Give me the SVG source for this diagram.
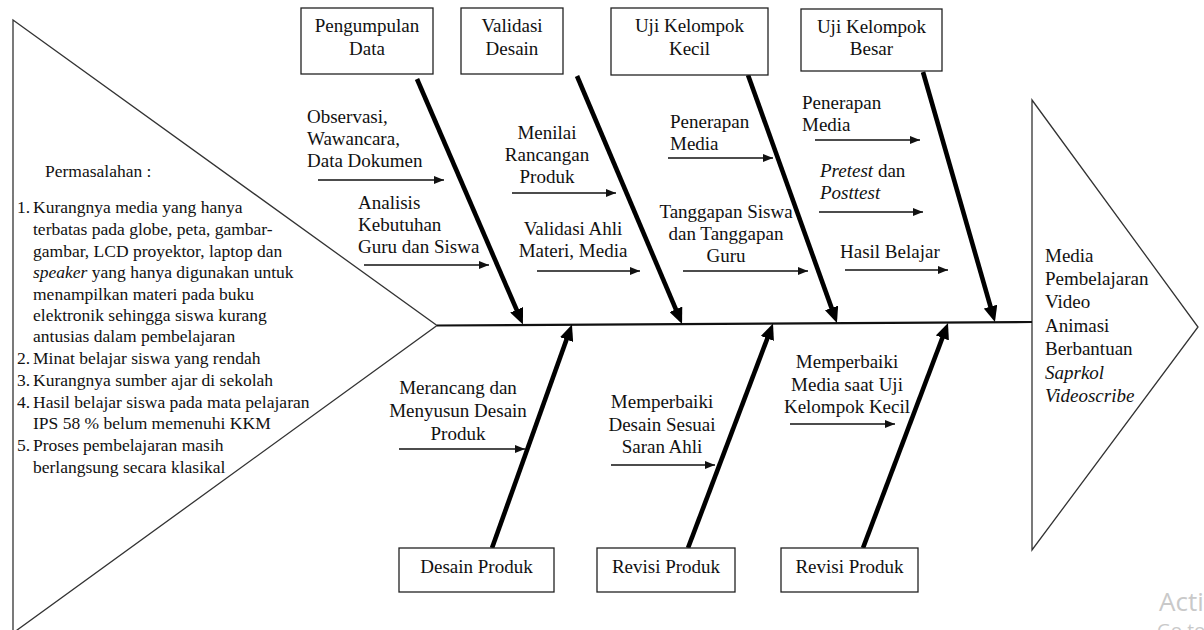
<svg xmlns="http://www.w3.org/2000/svg" width="1204" height="630" viewBox="0 0 1204 630">
  <style>
    .t { font-family: "Liberation Serif", "Times New Roman", serif; font-size: 19px; fill: #111; }
    .c { text-anchor: middle; }
    .list { font-size: 17.5px; }
    .it { font-style: italic; }
    .box { fill: #fff; stroke: #222; stroke-width: 1.3; }
    .outline { fill: none; stroke: #333; stroke-width: 1.3; }
    .spine { stroke: #111; stroke-width: 2.2; fill: none; }
    .bone { stroke: #000; stroke-width: 4.6; fill: none; marker-end: url(#bigHead); }
    .thin { stroke: #111; stroke-width: 1.3; fill: none; marker-end: url(#smallHead); }
    .wm { font-family: "Open Sans", "Noto Sans", sans-serif; fill: #c9c9c9; }
  </style>
  <defs>
    <marker id="bigHead" viewBox="0 0 16 14" refX="1" refY="7" markerWidth="16" markerHeight="14" markerUnits="userSpaceOnUse" orient="auto">
      <path d="M0,0 L16,7 L0,14 z" fill="#000"/>
    </marker>
    <marker id="smallHead" viewBox="0 0 10 8" refX="10" refY="4" markerWidth="10" markerHeight="8" markerUnits="userSpaceOnUse" orient="auto">
      <path d="M0,0 L10,4 L0,8 z" fill="#111"/>
    </marker>
  </defs>

  <rect width="1204" height="630" fill="#fff"/>

  <!-- Head: problem statement triangle -->
  <g id="problem">
    <polygon class="outline" points="13,20 437,325.5 13,633"/>
    <text class="t list" x="45" y="177">Permasalahan :</text>
    <text class="t list" x="17" y="213">1.</text>
    <text class="t list" x="33" y="213">Kurangnya media yang hanya</text>
    <text class="t list" x="33" y="235">terbatas pada globe, peta, gambar-</text>
    <text class="t list" x="33" y="257">gambar, LCD proyektor, laptop dan</text>
    <text class="t list" x="33" y="278"><tspan class="it">speaker</tspan> yang hanya digunakan untuk</text>
    <text class="t list" x="33" y="300">menampilkan materi pada buku</text>
    <text class="t list" x="33" y="321">elektronik sehingga siswa kurang</text>
    <text class="t list" x="33" y="342">antusias dalam pembelajaran</text>
    <text class="t list" x="17" y="364">2.</text>
    <text class="t list" x="33" y="364">Minat belajar siswa yang rendah</text>
    <text class="t list" x="17" y="386">3.</text>
    <text class="t list" x="33" y="386">Kurangnya sumber ajar di sekolah</text>
    <text class="t list" x="17" y="408">4.</text>
    <text class="t list" x="33" y="408">Hasil belajar siswa pada mata pelajaran</text>
    <text class="t list" x="33" y="429">IPS 58 % belum memenuhi KKM</text>
    <text class="t list" x="17" y="451">5.</text>
    <text class="t list" x="33" y="451">Proses pembelajaran masih</text>
    <text class="t list" x="33" y="473">berlangsung secara klasikal</text>
  </g>

  <!-- Outcome: result arrow shape -->
  <g id="outcome">
    <polygon class="outline" points="1032,100 1198,327 1032,550"/>
    <text class="t" x="1045" y="262">Media</text>
    <text class="t" x="1045" y="285">Pembelajaran</text>
    <text class="t" x="1045" y="308">Video</text>
    <text class="t" x="1045" y="332">Animasi</text>
    <text class="t" x="1045" y="355">Berbantuan</text>
    <text class="t it" x="1045" y="379">Saprkol</text>
    <text class="t it" x="1045" y="402">Videoscribe</text>
  </g>

  <!-- Connectors: spine, main bones and sub-cause arrows -->
  <g id="connectors">
    <line class="spine" x1="437" y1="325.5" x2="1032" y2="322"/>
    <line class="bone" x1="417" y1="79" x2="517" y2="310.7"/>
    <line class="bone" x1="577" y1="76" x2="676.2" y2="310.2"/>
    <line class="bone" x1="748" y1="75" x2="831.9" y2="308.9"/>
    <line class="bone" x1="923" y1="72" x2="990.8" y2="307.6"/>
    <line class="bone" x1="492" y1="548" x2="566.9" y2="338.6"/>
    <line class="bone" x1="688" y1="548" x2="767.7" y2="337.5"/>
    <line class="bone" x1="863" y1="548" x2="942.7" y2="337"/>

    <line class="thin" x1="318" y1="180" x2="444" y2="180"/>
    <line class="thin" x1="364" y1="265" x2="489" y2="265"/>
    <line class="thin" x1="512" y1="193" x2="616" y2="193"/>
    <line class="thin" x1="537" y1="271" x2="640" y2="271"/>
    <line class="thin" x1="668" y1="158" x2="773" y2="158"/>
    <line class="thin" x1="683" y1="271" x2="808" y2="271"/>
    <line class="thin" x1="815" y1="140" x2="920" y2="140"/>
    <line class="thin" x1="819" y1="212" x2="923" y2="212"/>
    <line class="thin" x1="845" y1="270" x2="948" y2="270"/>
    <line class="thin" x1="399" y1="449" x2="525" y2="449"/>
    <line class="thin" x1="611" y1="465" x2="715" y2="465"/>
    <line class="thin" x1="790" y1="424" x2="895" y2="424"/>
  </g>

  <!-- Upper stage boxes -->
  <g id="pengumpulan-data">
    <rect class="box" x="301" y="8" width="132" height="66"/>
    <text class="t c" x="367" y="32">Pengumpulan</text>
    <text class="t c" x="367" y="55">Data</text>
  </g>
  <g id="validasi-desain">
    <rect class="box" x="461" y="8" width="102" height="66"/>
    <text class="t c" x="512" y="32">Validasi</text>
    <text class="t c" x="512" y="55">Desain</text>
  </g>
  <g id="uji-kelompok-kecil">
    <rect class="box" x="611" y="8" width="157" height="67"/>
    <text class="t c" x="689.5" y="32">Uji Kelompok</text>
    <text class="t c" x="689.5" y="55">Kecil</text>
  </g>
  <g id="uji-kelompok-besar">
    <rect class="box" x="801" y="9" width="141" height="62"/>
    <text class="t c" x="871.5" y="33">Uji Kelompok</text>
    <text class="t c" x="871.5" y="55">Besar</text>
  </g>

  <!-- Lower stage boxes -->
  <g id="desain-produk">
    <rect class="box" x="399" y="548" width="155" height="44"/>
    <text class="t c" x="476.5" y="573">Desain Produk</text>
  </g>
  <g id="revisi-produk-1">
    <rect class="box" x="597" y="548" width="138" height="44"/>
    <text class="t c" x="666" y="573">Revisi Produk</text>
  </g>
  <g id="revisi-produk-2">
    <rect class="box" x="781" y="548" width="137" height="44"/>
    <text class="t c" x="849.5" y="573">Revisi Produk</text>
  </g>

  <!-- Sub-cause labels -->
  <g id="label-observasi">
    <text class="t" x="307" y="123">Observasi,</text>
    <text class="t" x="307" y="145">Wawancara,</text>
    <text class="t" x="307" y="167">Data Dokumen</text>
  </g>
  <g id="label-analisis">
    <text class="t" x="358" y="209">Analisis</text>
    <text class="t" x="358" y="231">Kebutuhan</text>
    <text class="t" x="358" y="253">Guru dan Siswa</text>
  </g>
  <g id="label-menilai">
    <text class="t c" x="547" y="139">Menilai</text>
    <text class="t c" x="547" y="161">Rancangan</text>
    <text class="t c" x="547" y="183">Produk</text>
  </g>
  <g id="label-validasi-ahli">
    <text class="t c" x="573" y="235">Validasi Ahli</text>
    <text class="t c" x="573" y="257">Materi, Media</text>
  </g>
  <g id="label-penerapan-kecil">
    <text class="t" x="670" y="128">Penerapan</text>
    <text class="t" x="670" y="150">Media</text>
  </g>
  <g id="label-tanggapan">
    <text class="t c" x="726" y="218">Tanggapan Siswa</text>
    <text class="t c" x="726" y="240">dan Tanggapan</text>
    <text class="t c" x="726" y="262">Guru</text>
  </g>
  <g id="label-penerapan-besar">
    <text class="t" x="802" y="109">Penerapan</text>
    <text class="t" x="802" y="131">Media</text>
  </g>
  <g id="label-pretest">
    <text class="t" x="820" y="177"><tspan class="it">Pretest</tspan> dan</text>
    <text class="t it" x="820" y="199">Posttest</text>
  </g>
  <g id="label-hasil">
    <text class="t" x="840" y="258">Hasil Belajar</text>
  </g>
  <g id="label-merancang">
    <text class="t c" x="458" y="394">Merancang dan</text>
    <text class="t c" x="458" y="417">Menyusun Desain</text>
    <text class="t c" x="458" y="440">Produk</text>
  </g>
  <g id="label-perbaikan-desain">
    <text class="t c" x="662" y="408">Memperbaiki</text>
    <text class="t c" x="662" y="431">Desain Sesuai</text>
    <text class="t c" x="662" y="453">Saran Ahli</text>
  </g>
  <g id="label-perbaikan-media">
    <text class="t c" x="847" y="368">Memperbaiki</text>
    <text class="t c" x="847" y="391">Media saat Uji</text>
    <text class="t c" x="847" y="413">Kelompok Kecil</text>
  </g>

  <!-- System watermark in the corner -->
  <g id="watermark">
    <text class="wm" x="1159" y="611" font-size="26">Acti</text>
    <text class="wm" x="1157" y="637" font-size="19">Go to</text>
  </g>
</svg>
